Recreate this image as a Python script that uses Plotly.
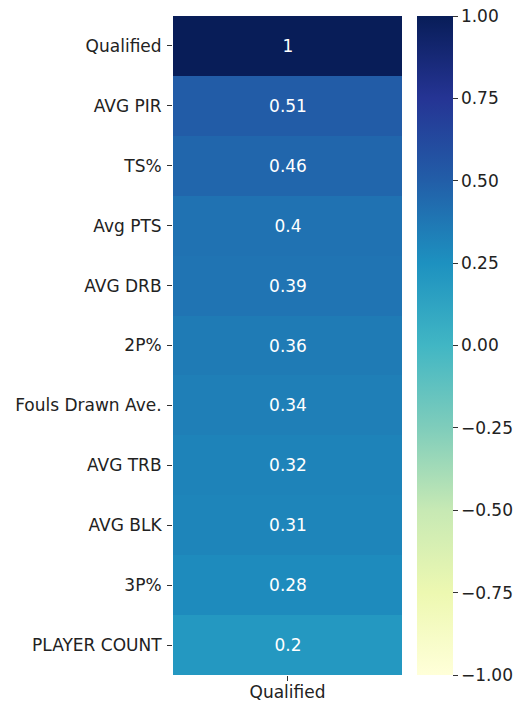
import plotly.graph_objects as go

# Correlation of each stat with the "Qualified" target
features = ["Qualified", "AVG PIR", "TS%", "Avg PTS", "AVG DRB", "2P%",
            "Fouls Drawn Ave.", "AVG TRB", "AVG BLK", "3P%", "PLAYER COUNT"]
corr_qualified = [1.0, 0.51, 0.46, 0.40, 0.39, 0.36, 0.34, 0.32, 0.31, 0.28, 0.20]
column_label = ["Qualified"]
cbar_ticks = [1.0, 0.75, 0.5, 0.25, 0.0, -0.25, -0.5, -0.75, -1.0]

# YlGnBu (matplotlib 9-step)
ylgnbu = ["#ffffd9", "#edf8b1", "#c7e9b4", "#7fcdbb", "#41b6c4",
          "#1d91c0", "#225ea8", "#253494", "#081d58"]
colorscale = [[i / (len(ylgnbu) - 1), c] for i, c in enumerate(ylgnbu)]

font = "DejaVu Sans"
fsize = 17

fig = go.Figure(
    go.Heatmap(
        z=[[v] for v in corr_qualified],
        x=column_label,
        y=features,
        zmin=-1, zmax=1,
        colorscale=colorscale,
        texttemplate="%{z:.2~g}",
        textfont=dict(family=font, size=fsize, color="white"),
        hoverinfo="skip",
        colorbar=dict(
            thickness=36,
            lenmode="pixels", len=659,
            x=1.0655, xanchor="left", xpad=0,
            y=0.5, yanchor="middle", ypad=0,
            outlinewidth=0,
            tickvals=cbar_ticks,
            ticktext=[f"{t:.2f}".replace("-", "\u2212") for t in cbar_ticks],
            ticks="outside", ticklen=5, tickcolor="#333",
            tickfont=dict(family=font, size=fsize, color="#222"),
        ),
    )
)

fig.update_layout(
    width=518, height=702,
    margin=dict(l=173, r=116, t=16, b=27, autoexpand=False),
    plot_bgcolor="white", paper_bgcolor="white",
    font=dict(family=font, size=fsize, color="#222"),
)
fig.update_yaxes(autorange="reversed", ticks="outside", ticklen=5,
                 tickcolor="#333", showgrid=False, zeroline=False,
                 automargin=False, ticklabelstandoff=2)
fig.update_xaxes(ticks="outside", ticklen=5, tickcolor="#333",
                 showgrid=False, zeroline=False, automargin=False,
                 ticklabelstandoff=-3)

fig.write_html("out.html")
